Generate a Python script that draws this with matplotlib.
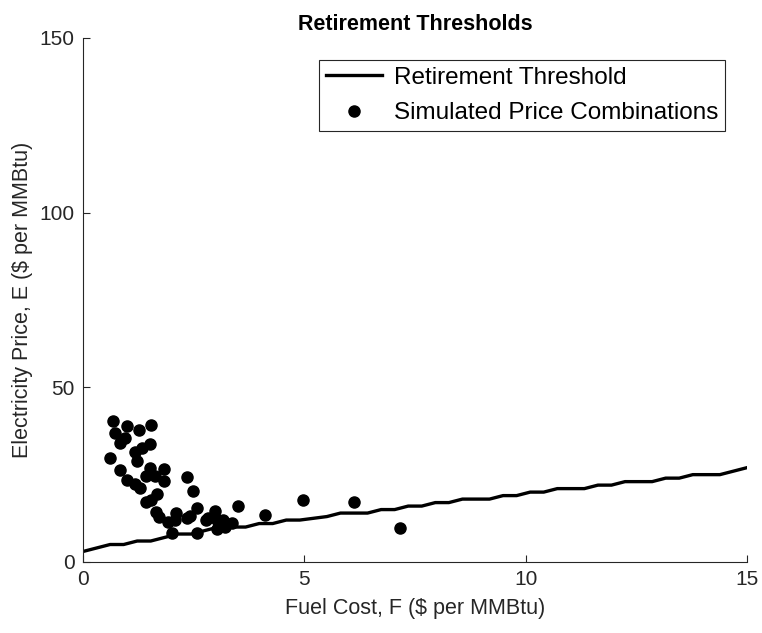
import matplotlib
matplotlib.use('Agg')
import matplotlib.pyplot as plt
import numpy as np

plt.rcParams['font.family'] = ['Liberation Sans', 'DejaVu Sans']

# retirement threshold on a 50-point fuel cost grid
fuel_grid = np.linspace(0, 15, 50)
threshold = [3, 4, 5, 5, 6, 6, 7, 8, 8, 9,
             10, 10, 10, 11, 11, 12, 12, 12.5, 13, 14,
             14, 14, 15, 15, 16, 16, 17, 17, 18, 18,
             18, 19, 19, 20, 20, 21, 21, 21, 22, 22,
             23, 23, 23, 24, 24, 25, 25, 25, 26, 27]

# simulated (fuel cost, electricity price) pairs
sim_fuel = [0.67, 0.99, 1.26, 1.54, 0.73, 0.84, 0.96, 1.52, 1.33, 1.18,
            0.60, 1.23, 0.84, 1.52, 1.84, 1.42, 1.63, 1.84, 0.99, 1.18,
            1.29, 1.68, 2.36, 2.49, 1.42, 1.54, 1.65, 1.71, 1.91, 2.11,
            2.08, 2.01, 2.57, 2.42, 2.36, 2.57, 2.83, 2.99, 3.02, 3.17,
            3.21, 3.36, 3.51, 4.11, 4.96, 6.13, 7.16, 2.78, 3.02]
sim_price = [40.3, 38.9, 37.7, 39.1, 37.0, 34.1, 35.6, 33.7, 32.7, 31.6,
             29.9, 28.9, 26.4, 27.0, 26.6, 24.7, 24.7, 23.2, 23.5, 22.3,
             21.2, 19.6, 24.4, 20.4, 17.1, 17.6, 14.4, 12.8, 11.4, 14.1,
             11.9, 8.4, 15.5, 13.3, 12.6, 8.4, 12.6, 14.5, 9.5, 11.9,
             10.0, 11.1, 15.9, 13.5, 17.6, 17.1, 9.8, 12.0, 11.9]

fig = plt.figure(figsize=(7.62, 6.33), dpi=100)
ax = fig.add_axes([0.1089, 0.1122, 0.8714, 0.8278])

ax.plot(fuel_grid, threshold, color='k', lw=2.4, label='Retirement Threshold')
ax.plot(sim_fuel, sim_price, 'o', color='k', ms=8, ls='none',
        label='Simulated Price Combinations')

ax.set_xlim(0, 15)
ax.set_ylim(0, 150)
ax.set_xticks([0, 5, 10, 15])
ax.set_yticks([0, 50, 100, 150])
for side in ['top', 'right']:
    ax.spines[side].set_visible(False)
for side in ['left', 'bottom']:
    ax.spines[side].set_color('#262626')
    ax.spines[side].set_linewidth(0.8)
ax.tick_params(direction='in', length=5, width=0.8, colors='#262626',
               labelsize=15, pad=6)

ax.set_xlabel('Fuel Cost, F ($ per MMBtu)', fontsize=15.5, color='#262626',
              labelpad=6)
ax.set_ylabel('Electricity Price, E ($ per MMBtu)', fontsize=15.5,
              color='#262626', labelpad=5)
ax.set_title('Retirement Thresholds', fontsize=15.5, fontweight='bold', pad=6)

leg = ax.legend(loc='upper right', bbox_to_anchor=(0.967, 0.958),
                borderaxespad=0, fontsize=17.5, fancybox=False, framealpha=1,
                edgecolor='#262626', handlelength=2.3, handletextpad=0.5,
                labelspacing=0.55, borderpad=0.28)
leg.get_frame().set_linewidth(0.8)

fig.savefig('out.png', dpi=100)
